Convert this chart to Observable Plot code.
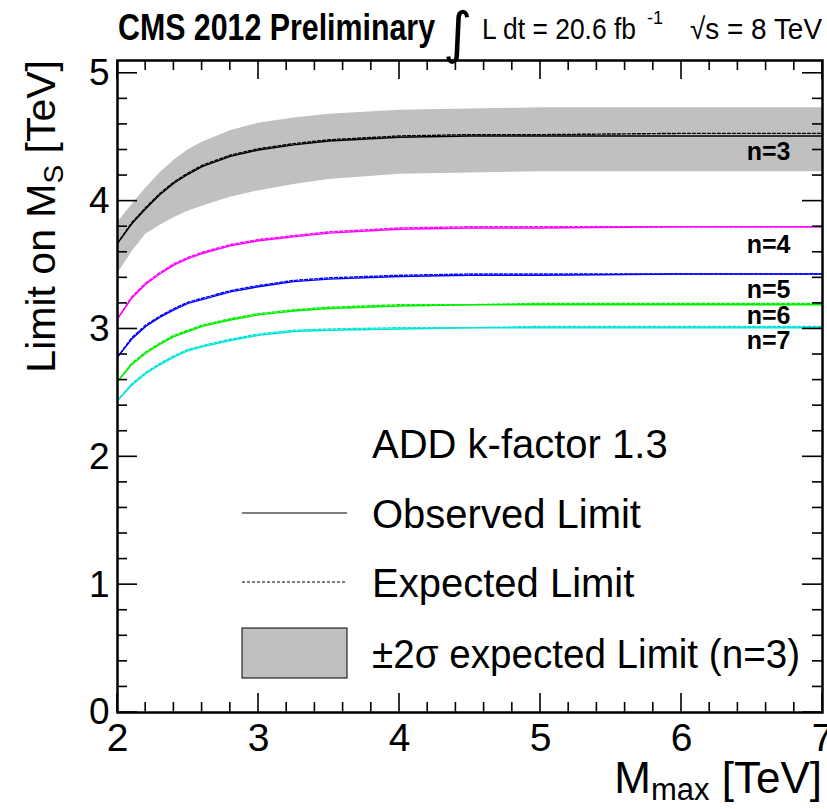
<!DOCTYPE html>
<html><head><meta charset="utf-8">
<script src="https://cdn.jsdelivr.net/npm/d3@7"></script>
<script src="https://cdn.jsdelivr.net/npm/@observablehq/plot@0.6"></script>
<style>
html,body{margin:0;padding:0;background:#fff;}
body{font-family:"Liberation Sans",Arial,Helvetica,sans-serif;}
</style></head><body>
<div id="chart"></div>
<script>
// ---- data ----
const massMax = [2.0, 2.1, 2.2, 2.3, 2.4, 2.5, 2.6, 2.8, 3.0, 3.25, 3.5, 4.0, 4.5, 5.0, 6.0, 7.0];
const band2SigmaHiN3 = [3.83, 3.97, 4.10, 4.22, 4.32, 4.40, 4.46, 4.55, 4.61, 4.65, 4.68, 4.71, 4.72, 4.73, 4.73, 4.73];
const band2SigmaLoN3 = [3.43, 3.60, 3.74, 3.81, 3.87, 3.92, 3.96, 4.03, 4.08, 4.13, 4.17, 4.21, 4.22, 4.23, 4.23, 4.23];
const obsN3 = [3.67, 3.82, 3.94, 4.05, 4.14, 4.21, 4.27, 4.35, 4.40, 4.44, 4.47, 4.50, 4.51, 4.51, 4.51, 4.51];
const expN3 = [3.67, 3.83, 3.95, 4.06, 4.15, 4.22, 4.28, 4.36, 4.41, 4.45, 4.48, 4.51, 4.52, 4.52, 4.53, 4.53];
const obsN4 = [3.08, 3.24, 3.35, 3.43, 3.50, 3.55, 3.59, 3.65, 3.69, 3.72, 3.75, 3.78, 3.79, 3.79, 3.80, 3.80];
const expN4 = [3.08, 3.25, 3.36, 3.44, 3.51, 3.56, 3.60, 3.66, 3.70, 3.73, 3.76, 3.79, 3.80, 3.80, 3.80, 3.80];
const obsN5 = [2.78, 2.92, 3.02, 3.09, 3.15, 3.20, 3.23, 3.29, 3.33, 3.37, 3.39, 3.41, 3.42, 3.42, 3.43, 3.43];
const expN5 = [2.78, 2.93, 3.03, 3.10, 3.16, 3.21, 3.24, 3.30, 3.34, 3.38, 3.40, 3.42, 3.43, 3.43, 3.43, 3.43];
const obsN6 = [2.59, 2.72, 2.81, 2.88, 2.94, 2.98, 3.02, 3.07, 3.11, 3.14, 3.16, 3.18, 3.19, 3.19, 3.19, 3.19];
const expN6 = [2.59, 2.73, 2.82, 2.89, 2.95, 2.99, 3.03, 3.08, 3.12, 3.15, 3.17, 3.19, 3.19, 3.20, 3.20, 3.20];
const obsN7 = [2.44, 2.56, 2.65, 2.72, 2.78, 2.83, 2.86, 2.91, 2.95, 2.98, 2.99, 3.00, 3.01, 3.01, 3.01, 3.01];
const expN7 = [2.44, 2.57, 2.66, 2.73, 2.79, 2.84, 2.87, 2.92, 2.96, 2.99, 3.00, 3.01, 3.01, 3.02, 3.02, 3.02];
const seriesNames = ["n=3", "n=4", "n=5", "n=6", "n=7"];
const xTicks = [2, 3, 4, 5, 6, 7];
const yTicks = [0, 1, 2, 3, 4, 5];
const titleMain = "CMS 2012 Preliminary";
const titleLumi = "L dt = 20.6 fb";
const titleEnergy = "\u221As = 8 TeV";
const legendHeader = "ADD k-factor 1.3";
const legendLabels = ["Observed Limit", "Expected Limit", "\u00B12\u03C3 expected Limit (n=3)"];

// ---- tables built from the arrays ----
const obsAll = [obsN3, obsN4, obsN5, obsN6, obsN7];
const expAll = [expN3, expN4, expN5, expN6, expN7];
const colors = ["#000000", "#ff00ff", "#0000ff", "#00ee00", "#00e5d5"];
const bandRows = massMax.map((m, i) => ({m, lo: band2SigmaLoN3[i], hi: band2SigmaHiN3[i]}));
const rowsOf = (arr) => massMax.map((m, i) => ({m, v: arr[i]}));

const FONT = "'Liberation Sans', Arial, Helvetica, sans-serif";
const W = 827, H = 809;
const mL = 117, mR = 5, mT = 60, mB = 97;
const FW = W - mL - mR, FH = H - mT - mB;
const xMinor = d3.range(2, 7.0001, 0.2);
const yMinor = d3.range(0, 5.0001, 0.2);
const isMajor = (v, majors) => majors.includes(Math.round(v * 1000) / 1000);

const lineMarks = [];
obsAll.forEach((arr, k) => {
  lineMarks.push(Plot.line(rowsOf(arr), {x: "m", y: "v", stroke: colors[k], strokeWidth: 1.4}));
  lineMarks.push(Plot.line(rowsOf(expAll[k]), {x: "m", y: "v", stroke: colors[k], strokeWidth: 1.4, strokeDasharray: "3,2"}));
});

const labelDy = [16, 18, 16, 11, 13];
const labelMarks = seriesNames.map((name, k) => Plot.text([{m: massMax[massMax.length - 1], v: obsAll[k][obsAll[k].length - 1], name}], {
  x: "m", y: "v", text: "name", textAnchor: "end", lineAnchor: "middle",
  dx: -32, dy: labelDy[k], fontSize: 25, fontWeight: "bold", fill: "#000"
}));

// inward ticks on all four sides of the frame, drawn as thin filled rects (ROOT style)
const xMinorOnly = xMinor.filter(v => !isMajor(v, xTicks));
const yMinorOnly = yMinor.filter(v => !isMajor(v, yTicks));
const rx = (vals, len, side) => Plot.rect(vals, {
  x1: d => d, x2: d => d, fill: "#000",
  insetLeft: -0.8, insetRight: -0.8,
  insetTop: side === "bottom" ? FH - len : 0,
  insetBottom: side === "top" ? FH - len : 0
});
const ry = (vals, len, side) => Plot.rect(vals, {
  y1: d => d, y2: d => d, fill: "#000",
  insetTop: -0.8, insetBottom: -0.8,
  insetRight: side === "left" ? FW - len : 0,
  insetLeft: side === "right" ? FW - len : 0
});
const tickMarks = [
  rx(xMinorOnly, 10, "bottom"), rx(xTicks, 19, "bottom"),
  rx(xMinorOnly, 10, "top"), rx(xTicks, 19, "top"),
  ry(yMinorOnly, 10, "left"), ry(yTicks, 20, "left"),
  ry(yMinorOnly, 10, "right"), ry(yTicks, 20, "right")
];

const chart = Plot.plot({
  width: W, height: H,
  marginLeft: mL, marginRight: mR, marginTop: mT, marginBottom: mB,
  x: {domain: [2, 7], label: null},
  y: {domain: [0, 5.1], label: null},
  style: {fontFamily: FONT, color: "#000"},
  marks: [
    Plot.areaY(bandRows, {x: "m", y1: "lo", y2: "hi", fill: "#c0c0c0"}),
    ...lineMarks,
    ...labelMarks,
    ...tickMarks,
    Plot.axisX({anchor: "bottom", ticks: xTicks, tickSize: 0, tickPadding: 11, fontSize: 39, label: null, tickFormat: d => String(d)}),
    Plot.axisY({anchor: "left", ticks: yTicks, tickSize: 0, tickPadding: 8, fontSize: 37, label: null, tickFormat: d => String(d)}),
    Plot.frame({stroke: "#000", strokeWidth: 2.5})
  ]
});
document.getElementById("chart").appendChild(chart);

const svg = d3.select(chart);

// ---- axis titles, legend (layout only) ----
const yt = svg.append("text")
  .attr("transform", "translate(55,60) rotate(-90)")
  .attr("text-anchor", "end")
  .attr("font-family", FONT).attr("font-size", 41).attr("fill", "#000");
yt.append("tspan").text("Limit on M");
yt.append("tspan").attr("font-size", 28).attr("dy", 8).text("S");
yt.append("tspan").attr("dy", -8).text(" [TeV]");

const xt = svg.append("text")
  .attr("x", 822).attr("y", 793)
  .attr("text-anchor", "end")
  .attr("font-family", FONT).attr("font-size", 44).attr("fill", "#000");
xt.append("tspan").text("M");
xt.append("tspan").attr("font-size", 31).attr("dy", 7).text("max");
xt.append("tspan").attr("dy", -7).text(" [TeV]");

const lg = svg.append("g").attr("font-family", FONT).attr("font-size", 40).attr("fill", "#000").attr("text-anchor", "start");
lg.append("text").attr("x", 372).attr("y", 458).text(legendHeader);
lg.append("line").attr("x1", 242).attr("x2", 347).attr("y1", 513).attr("y2", 513).attr("stroke", "#000").attr("stroke-width", 1.2);
lg.append("text").attr("x", 372).attr("y", 528).text(legendLabels[0]);
lg.append("line").attr("x1", 242).attr("x2", 347).attr("y1", 582).attr("y2", 582).attr("stroke", "#000").attr("stroke-width", 1).attr("stroke-dasharray", "3,2");
lg.append("text").attr("x", 372).attr("y", 597).text(legendLabels[1]);
lg.append("rect").attr("x", 242).attr("y", 628).attr("width", 105).attr("height", 50).attr("fill", "#c0c0c0").attr("stroke", "#000").attr("stroke-width", 1);
lg.append("text").attr("x", 372).attr("y", 668).attr("textLength", 428).attr("lengthAdjust", "spacingAndGlyphs").text(legendLabels[2]);

// ---- title above the frame ----
const hs = svg.append("g").attr("fill", "#000").attr("text-anchor", "start");
hs.append("text").attr("x", 118).attr("y", 40).attr("font-family", FONT).attr("font-weight", "bold")
  .attr("font-size", 37).attr("textLength", 317).attr("lengthAdjust", "spacingAndGlyphs").text(titleMain);
hs.append("text").attr("x", 443).attr("y", 52).attr("font-family", "'DejaVu Sans', sans-serif")
  .attr("font-size", 56).text("\u222B");
hs.append("text").attr("x", 482).attr("y", 39).attr("font-family", FONT)
  .attr("font-size", 30).attr("textLength", 154).attr("lengthAdjust", "spacingAndGlyphs").text(titleLumi);
hs.append("text").attr("x", 647).attr("y", 24).attr("font-family", FONT)
  .attr("font-size", 18).text("-1");
hs.append("text").attr("x", 690).attr("y", 39).attr("font-family", FONT)
  .attr("font-size", 30).attr("textLength", 132).attr("lengthAdjust", "spacingAndGlyphs").text(titleEnergy);
</script>
</body></html>
